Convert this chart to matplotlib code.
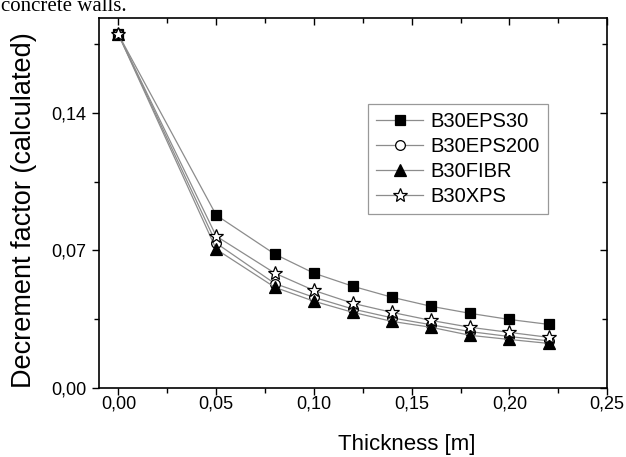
import matplotlib
matplotlib.use("Agg")
import matplotlib.pyplot as plt
from matplotlib.ticker import MultipleLocator, FuncFormatter

plt.rcParams['font.family'] = ['Liberation Sans', 'DejaVu Sans']

thickness = [0.0, 0.05, 0.08, 0.10, 0.12, 0.14, 0.16, 0.18, 0.20, 0.22]
b30eps30 = [0.180, 0.0879, 0.0680, 0.0583, 0.0516, 0.0460, 0.0414, 0.0378, 0.0347, 0.0322]
b30eps200 = [0.180, 0.0736, 0.0530, 0.0460, 0.0400, 0.0355, 0.0320, 0.0285, 0.0260, 0.0238]
b30fibr = [0.180, 0.0705, 0.0511, 0.0440, 0.0383, 0.0337, 0.0307, 0.0266, 0.0245, 0.0225]
b30xps = [0.180, 0.0772, 0.0583, 0.0495, 0.0429, 0.0383, 0.0342, 0.0307, 0.0281, 0.0256]

labels = ['B30EPS30', 'B30EPS200', 'B30FIBR', 'B30XPS']
series = [b30eps30, b30eps200, b30fibr, b30xps]
markers = ['s', 'o', '^', '*']
faces = ['black', 'white', 'black', 'white']
sizes = [7, 7, 8, 10]


def comma(v, pos):
    return f"{v:.2f}".replace('.', ',')


fig = plt.figure(figsize=(6.26, 4.57), dpi=100)
ax = fig.add_axes([0.158, 0.152, 0.812, 0.809])

for ys, lab, m, fc, ms in zip(series, labels, markers, faces, sizes):
    ax.plot(thickness, ys, color='#8c8c8c', lw=0.9, marker=m, markersize=ms,
            markerfacecolor=fc, markeredgecolor='black', markeredgewidth=0.9,
            label=lab)

ax.set_xlim(-0.01, 0.25)
ax.set_ylim(0, 0.1885)
ax.xaxis.set_major_locator(MultipleLocator(0.05))
ax.xaxis.set_minor_locator(MultipleLocator(0.025))
ax.yaxis.set_major_locator(MultipleLocator(0.07))
ax.yaxis.set_minor_locator(MultipleLocator(0.035))
ax.xaxis.set_major_formatter(FuncFormatter(comma))
ax.yaxis.set_major_formatter(FuncFormatter(comma))

ax.tick_params(which='both', top=True, right=True, direction='in',
               width=1.0, labelsize=13)
ax.tick_params(axis='x', which='both', pad=6)
ax.tick_params(axis='y', which='both', pad=9)
ax.tick_params(which='major', length=5)
ax.tick_params(which='minor', length=3.5)
# bottom/left ticks point outward, top/right inward
for tick in ax.xaxis.get_major_ticks() + ax.xaxis.get_minor_ticks():
    tick.tick1line.set_marker(3)
    tick.tick2line.set_marker(3)
for tick in ax.yaxis.get_major_ticks() + ax.yaxis.get_minor_ticks():
    tick.tick1line.set_marker(0)
    tick.tick2line.set_marker(0)
for s in ax.spines.values():
    s.set_linewidth(1.2)

ax.set_xlabel('Thickness [m]', fontsize=16)
ax.xaxis.set_label_coords(0.606, -0.125)
ax.set_ylabel('Decrement factor (calculated)', fontsize=19.5)
ax.yaxis.set_label_coords(-0.122, 0.48)

leg = ax.legend(loc='upper left', bbox_to_anchor=(0.53, 0.767), fontsize=14.5,
                frameon=True, fancybox=False, handlelength=2.3,
                labelspacing=0.3, borderpad=0.4, handletextpad=0.4,
                borderaxespad=0)
leg.get_frame().set_edgecolor('#808080')
leg.get_frame().set_linewidth(0.9)

fig.text(0.002, 1 - 11 / 457, 'concrete walls.', family='Liberation Serif',
         fontsize=15, va='baseline', ha='left')

fig.savefig('out.png', dpi=100)
